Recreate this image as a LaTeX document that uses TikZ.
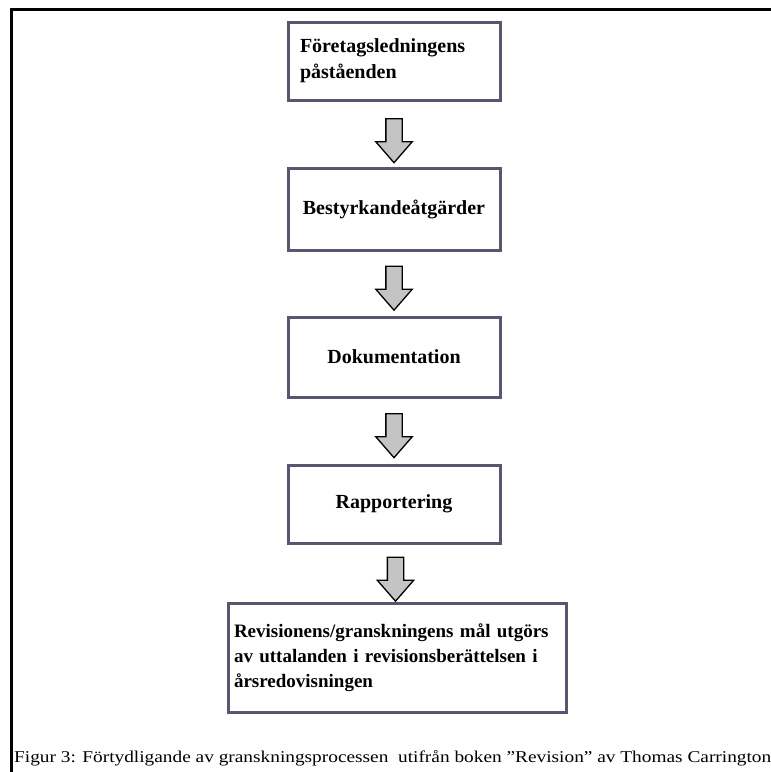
\documentclass[tikz,border=0pt]{standalone}
\usepackage{fontspec}
\setmainfont{Liberation Serif}
\usetikzlibrary{shapes.arrows,calc}

\definecolor{boxline}{RGB}{94,84,112}
\definecolor{arrowfill}{RGB}{196,196,196}

\tikzset{
  stepbox/.style={draw=boxline, line width=3pt, fill=white,
    minimum width=212pt, inner xsep=10pt,
    font=\fontsize{20pt}{26pt}\selectfont\bfseries},
  blockarrow/.style={single arrow, rotate=-90, draw=black, fill=arrowfill,
    line width=1.3pt, minimum height=44pt, inner xsep=0pt, inner ysep=7.5pt,
    single arrow head extend=10pt, single arrow tip angle=82},
}

\begin{document}
\begin{tikzpicture}[x=1pt, y=-1pt]
  \useasboundingbox (0,0) rectangle (771,772);
  \fill[white] (0,0) rectangle (771,772);

  % page frame: top and left rules
  \coordinate (frameTR) at (771,9.5);
  \coordinate (frameTL) at (11.3,9.5);
  \coordinate (frameBL) at (11.3,772);
  \draw[line width=2.6pt, black] (frameTR) -- (frameTL) -- (frameBL);

  % process steps
  \node[stepbox, minimum height=78pt, text width=188pt, align=left]
    (b1) at (394,61) {Företagsledningens\\påståenden};
  \node[stepbox, minimum height=82pt] (b2) at (394,209) {Bestyrkandeåtgärder};
  \node[stepbox, minimum height=80pt] (b3) at (394,357) {Dokumentation};
  \node[stepbox, minimum height=78pt] (b4) at (394,504) {Rapportering};
  \node[stepbox, minimum width=338pt, minimum height=109pt, inner xsep=6pt,
        text width=326pt, align=left,
        font=\fontsize{19pt}{25pt}\selectfont\bfseries]
    (b5) at (397,657.5)
    {\hyphenpenalty=10000\relax Revisionens/granskningens mål utgörs\\av uttalanden i revisionsberättelsen i\\årsredovisningen};

  % block arrows between the steps
  \node[blockarrow] (a1) at ($(b1.south)!0.5!(b2.north)+(0,2)$) {};
  \node[blockarrow] (a2) at ($(b2.south)!0.5!(b3.north)$) {};
  \node[blockarrow] (a3) at ($(b3.south)!0.5!(b4.north)$) {};
  \node[blockarrow] (a4) at ($(b4.south)!0.5!(b5.north)+(0,1.5)$) {};

  % caption
  \node[anchor=base west, inner sep=0pt] (cap) at (14,762.5)
    {\resizebox{757pt}{\height}{\fontsize{16.5pt}{19pt}\selectfont Figur 3: Förtydligande av granskningsprocessen\ \ utifrån boken ”Revision” av Thomas Carrington}};
\end{tikzpicture}
\end{document}
